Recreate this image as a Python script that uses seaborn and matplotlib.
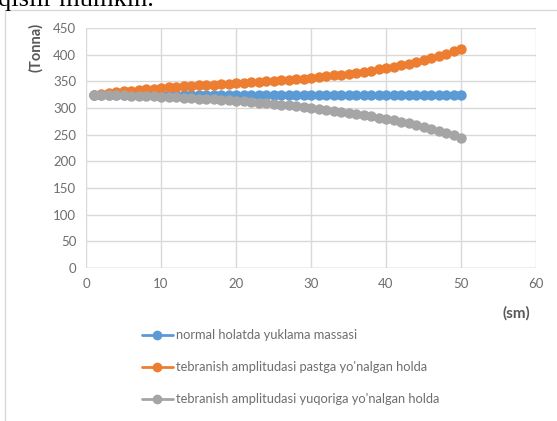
import numpy as np
import pandas as pd
import seaborn as sns
import matplotlib.pyplot as plt
from matplotlib.patches import Rectangle

# data
x_sm = list(range(1, 51))

normal = [325, 325, 325, 325, 325, 325, 325, 325, 325, 325,
          325, 325, 325, 325, 325, 325, 325, 325, 325, 325,
          325, 325, 325, 325, 325, 325, 325, 325, 325, 325,
          325, 325, 325, 325, 325, 325, 325, 325, 325, 325,
          325, 325, 325, 325, 325, 325, 325, 325, 325, 325]

pastga = [325, 326.5, 328, 329.5, 331, 332.3, 333.5, 334.8, 336, 337.5,
          338.5, 339.5, 340.5, 341.5, 342.3, 343, 343.8, 344.5, 345.3, 346,
          347, 348, 349, 350, 351, 352, 353, 354, 355.3, 356.5,
          358, 359.5, 361, 362.5, 364, 366, 368, 370, 372.5, 375,
          377.5, 380, 383, 386, 389.5, 393, 397, 401, 406, 411]

yuqoriga = [325, 324.7, 324.4, 324, 323.6, 323.2, 322.8, 322.3, 321.8, 321.2,
            320.6, 320, 319.3, 318.6, 317.8, 317, 316.2, 315.3, 314.3, 313.3,
            312.3, 311.2, 310, 308.8, 307.5, 306.2, 304.8, 303.3, 301.8, 300.2,
            298.5, 296.8, 295, 293.1, 291.1, 289, 286.8, 284.5, 282, 279.5,
            276.8, 274, 271, 267.8, 264.4, 260.8, 257, 253, 248.7, 244.2]

series_names = ["normal holatda yuklama massasi",
                "tebranish amplitudasi pastga yo'nalgan holda",
                "tebranish amplitudasi yuqoriga yo'nalgan holda"]
colors = ["#5B9BD5", "#ED7D31", "#A5A5A5"]

df = pd.DataFrame({
    "sm": x_sm * 3,
    "tonna": normal + pastga + yuqoriga,
    "seriya": [series_names[0]] * 50 + [series_names[1]] * 50 + [series_names[2]] * 50,
})

sns.set_style("white")
plt.rcParams['font.family'] = ['Lato', 'DejaVu Sans']

fig = plt.figure(figsize=(5.57, 4.21), dpi=100)
ax = fig.add_axes([86 / 557, 1 - 268 / 421, 450 / 557, 240 / 421])

sns.lineplot(data=df, x="sm", y="tonna", hue="seriya", palette=colors,
             marker="o", markersize=7.5, markeredgewidth=0, linewidth=2,
             ax=ax, legend=False)

ax.set_xlim(0, 60)
ax.set_ylim(0, 450)
ax.set_xticks(range(0, 61, 10))
ax.set_yticks(range(0, 451, 50))
ax.grid(True, color="#D9D9D9", linewidth=1)
ax.set_axisbelow(True)
for s in ax.spines.values():
    s.set_visible(False)
ax.axhline(0, color="#BFBFBF", linewidth=1, zorder=0.5)
ax.tick_params(axis="both", length=0, labelsize=9.5, colors="#6E6E6E", pad=7)
ax.set_xlabel("")
ax.set_ylabel("")

fig.text(36 / 557, 1 - 47 / 421, "(Tonna)", rotation=90, ha="center", va="center",
         fontsize=10.5, fontweight="bold", color="#595959")
fig.text(516 / 557, 1 - 313 / 421, "(sm)", ha="center", va="center",
         fontsize=11, fontweight="bold", color="#595959")

# legend drawn below the plot
for i, (name, c) in enumerate(zip(series_names, colors)):
    yy = 1 - (335 + 32 * i) / 421
    fig.lines.append(plt.Line2D([142 / 557, 173 / 557], [yy, yy], color=c, linewidth=2,
                                transform=fig.transFigure))
    fig.lines.append(plt.Line2D([157 / 557], [yy], color=c, marker="o", markersize=7,
                                markeredgewidth=0, transform=fig.transFigure))
    fig.text(176 / 557, yy, name, ha="left", va="center", fontsize=9.3, color="#6E6E6E")

# chart frame and clipped document text above it
fig.patches.append(Rectangle((5 / 557, -0.01), 1.0, 1 - 10 / 421 + 0.01,
                             transform=fig.transFigure, fill=False,
                             edgecolor="#D9D9D9", linewidth=1))
fig.text(-2 / 557, 1 - 6 / 421, "qisiir mumkin.", ha="left", va="baseline",
         fontsize=19, family="Liberation Serif", color="black")

fig.savefig("out.png", dpi=100)
